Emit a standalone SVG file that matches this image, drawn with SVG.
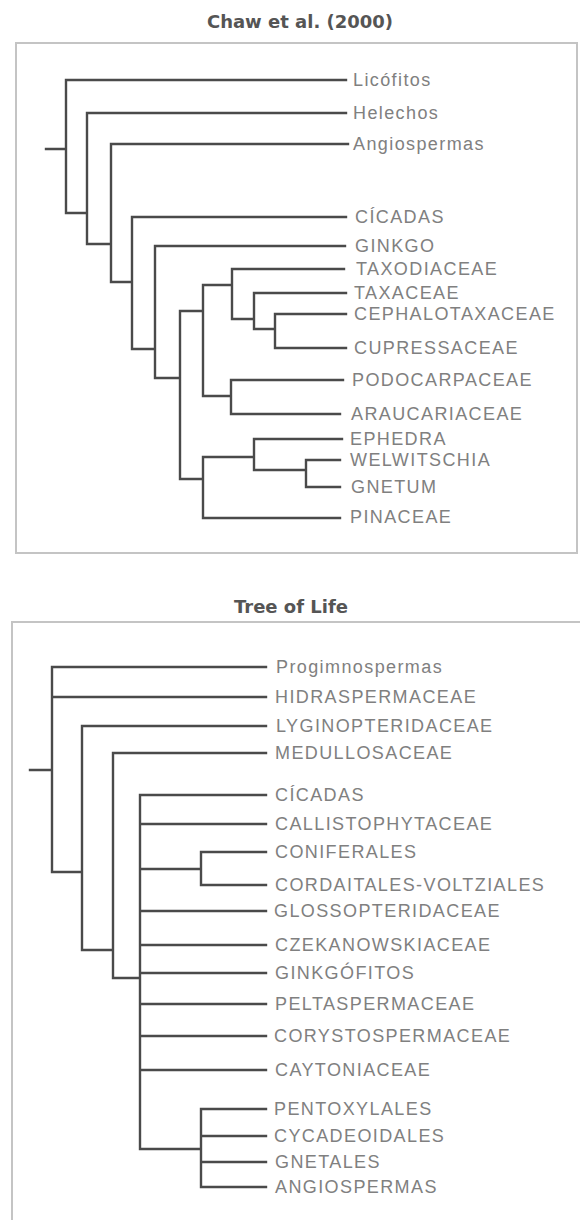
<svg xmlns="http://www.w3.org/2000/svg" width="580" height="1220" viewBox="0 0 580 1220">
<style>
.bg{fill:#ffffff}
.box{fill:none;stroke:#c4c4c4;stroke-width:2}
.title{font-family:"DejaVu Sans",sans-serif;font-weight:bold;font-size:18px;fill:#555555;text-anchor:middle}
.lbl{font-family:"Liberation Sans",Arial,sans-serif;font-size:18px;letter-spacing:1.4px;fill:#808080}
.br{fill:none;stroke:#4a4a4a;stroke-width:2.4;stroke-linecap:square}
</style>
<rect class="bg" x="0" y="0" width="580" height="1220"/>
<g id="panel-chaw">
<text class="title" x="300" y="28">Chaw et al. (2000)</text>
<rect class="box" x="16" y="43" width="561" height="510"/>
</g>
<g id="panel-tol">
<text class="title" x="291" y="613">Tree of Life</text>
<rect class="box" x="12" y="622" width="600" height="620"/>
</g>
<g id="connectors">
<path class="br" d="M46,149H66 M66,80V213 M66,80H346 M66,213H87 M87,113V244 M87,113H346 M87,244H111 M111,144V282 M111,144H348 M111,282H132 M132,217V349 M132,217H346 M132,349H155 M155,246V378 M155,246H345 M155,378H180 M180,311V479 M180,311H203 M203,285V396 M203,285H232 M232,269V319 M232,269H344 M232,319H254 M254,293V329 M254,293H346 M254,329H275 M275,314V348 M275,314H346 M275,348H346 M203,396H231 M231,380V414 M231,380H343 M231,414H340 M180,479H203 M203,457V518 M203,457H254 M254,439V470 M254,439H342 M254,470H306 M306,460V487 M306,460H340 M306,487H340 M203,518H340"/>
<path class="br" d="M30,770H52 M52,667V872 M52,667H266 M52,697H266 M52,872H82 M82,726V950 M82,726H266 M82,950H113 M113,753V978 M113,753H266 M113,978H140 M140,795V1149 M140,795H266 M140,824H266 M140,911H266 M140,945H266 M140,973H266 M140,1004H266 M140,1036H266 M140,1070H266 M140,869H201 M201,852V885 M201,852H266 M201,885H266 M140,1149H201 M201,1109V1187 M201,1109H266 M201,1136H266 M201,1162H266 M201,1187H266"/>
</g>
<g id="n-licofitos"><text class="lbl" x="353" y="86">Licófitos</text></g>
<g id="n-helechos"><text class="lbl" x="353" y="119">Helechos</text></g>
<g id="n-angiospermas1"><text class="lbl" x="353" y="150">Angiospermas</text></g>
<g id="n-cicadas1"><text class="lbl" x="355" y="223">CÍCADAS</text></g>
<g id="n-ginkgo"><text class="lbl" x="355" y="252">GINKGO</text></g>
<g id="n-taxodiaceae"><text class="lbl" x="356" y="275">TAXODIACEAE</text></g>
<g id="n-taxaceae"><text class="lbl" x="354" y="299">TAXACEAE</text></g>
<g id="n-cephalotaxaceae"><text class="lbl" x="354" y="320">CEPHALOTAXACEAE</text></g>
<g id="n-cupressaceae"><text class="lbl" x="354" y="354">CUPRESSACEAE</text></g>
<g id="n-podocarpaceae"><text class="lbl" x="352" y="386">PODOCARPACEAE</text></g>
<g id="n-araucariaceae"><text class="lbl" x="351" y="420">ARAUCARIACEAE</text></g>
<g id="n-ephedra"><text class="lbl" x="350" y="445">EPHEDRA</text></g>
<g id="n-welwitschia"><text class="lbl" x="350" y="466">WELWITSCHIA</text></g>
<g id="n-gnetum"><text class="lbl" x="351" y="493">GNETUM</text></g>
<g id="n-pinaceae"><text class="lbl" x="350" y="523">PINACEAE</text></g>
<g id="n-progimnospermas"><text class="lbl" x="276" y="673">Progimnospermas</text></g>
<g id="n-hidraspermaceae"><text class="lbl" x="275" y="703">HIDRASPERMACEAE</text></g>
<g id="n-lyginopteridaceae"><text class="lbl" x="276" y="732">LYGINOPTERIDACEAE</text></g>
<g id="n-medullosaceae"><text class="lbl" x="275" y="759">MEDULLOSACEAE</text></g>
<g id="n-cicadas2"><text class="lbl" x="275" y="801">CÍCADAS</text></g>
<g id="n-callistophytaceae"><text class="lbl" x="275" y="830">CALLISTOPHYTACEAE</text></g>
<g id="n-coniferales"><text class="lbl" x="275" y="858">CONIFERALES</text></g>
<g id="n-cordaitales"><text class="lbl" x="275" y="891">CORDAITALES-VOLTZIALES</text></g>
<g id="n-glossopteridaceae"><text class="lbl" x="274" y="917">GLOSSOPTERIDACEAE</text></g>
<g id="n-czekanowskiaceae"><text class="lbl" x="275" y="951">CZEKANOWSKIACEAE</text></g>
<g id="n-ginkgofitos"><text class="lbl" x="275" y="979">GINKGÓFITOS</text></g>
<g id="n-peltaspermaceae"><text class="lbl" x="275" y="1010">PELTASPERMACEAE</text></g>
<g id="n-corystospermaceae"><text class="lbl" x="274" y="1042">CORYSTOSPERMACEAE</text></g>
<g id="n-caytoniaceae"><text class="lbl" x="275" y="1076">CAYTONIACEAE</text></g>
<g id="n-pentoxylales"><text class="lbl" x="274" y="1115">PENTOXYLALES</text></g>
<g id="n-cycadeoidales"><text class="lbl" x="274" y="1142">CYCADEOIDALES</text></g>
<g id="n-gnetales"><text class="lbl" x="275" y="1168">GNETALES</text></g>
<g id="n-angiospermas2"><text class="lbl" x="275" y="1193">ANGIOSPERMAS</text></g>
</svg>
